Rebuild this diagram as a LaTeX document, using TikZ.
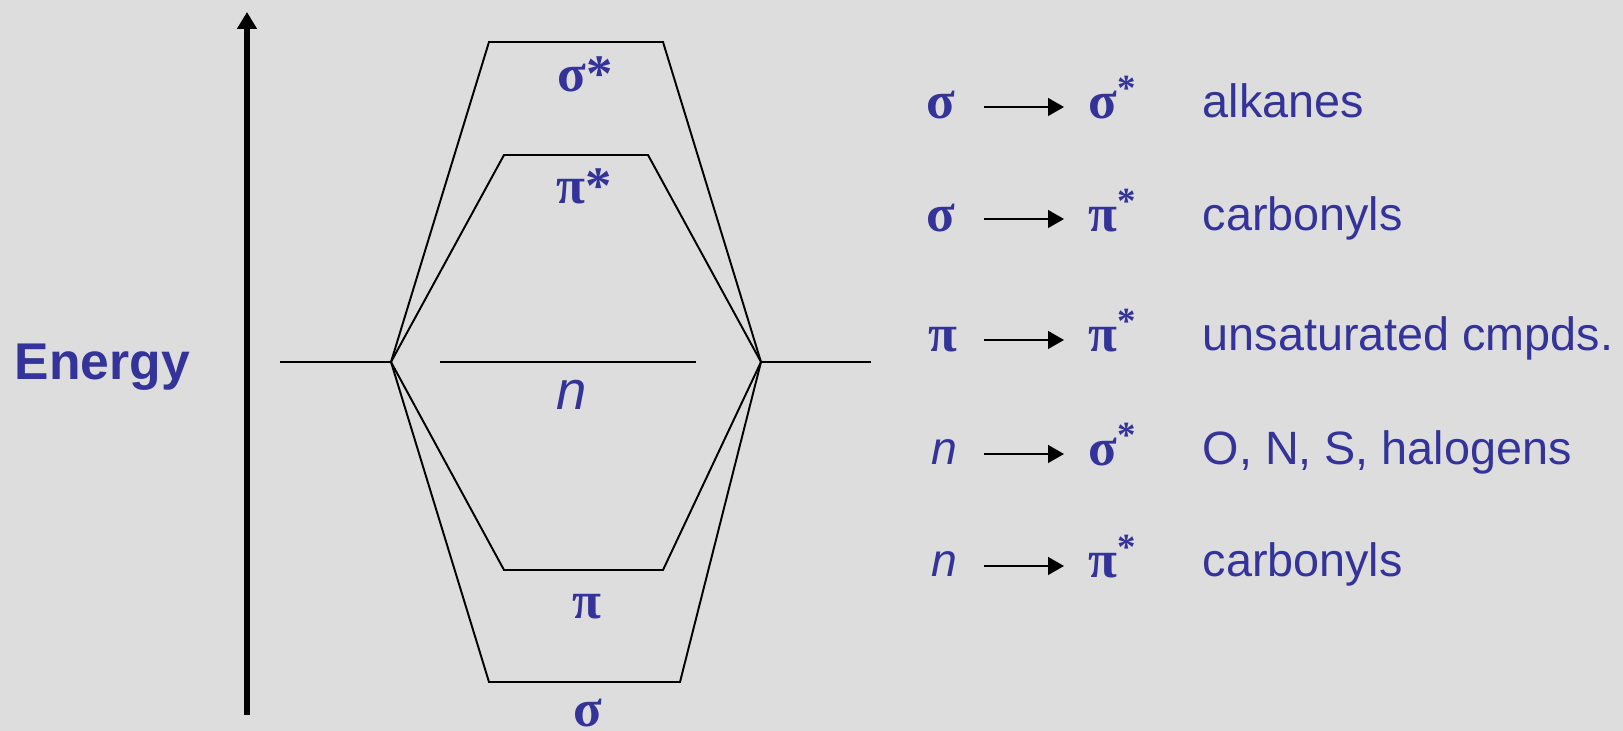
\documentclass[tikz,border=0pt]{standalone}
\usepackage{fontspec}
\setmainfont{Liberation Sans}
\newfontfamily\grk{Liberation Serif}
\usetikzlibrary{arrows.meta}
\definecolor{bg}{RGB}{221,221,221}
\definecolor{ink}{RGB}{51,51,153}
\begin{document}
\begin{tikzpicture}[x=0.1mm,y=-0.1mm,
  level/.style={line width=0.55pt,black},
  energyarrow/.style={line width=1.45pt,black,-{Triangle[length=4.8pt,width=5.4pt]}},
  trarrow/.style={line width=0.6pt,black,-{Triangle[length=4.5pt,width=5pt]}},
  dlbl/.style={text=ink,inner sep=0pt,anchor=base,font=\grk\bfseries\fontsize{15}{15}\selectfont},
  nlbl/.style={text=ink,inner sep=0pt,anchor=base,font=\itshape\fontsize{15.5}{15.5}\selectfont},
  glft/.style={text=ink,inner sep=0pt,anchor=base,font=\grk\bfseries\fontsize{15}{15}\selectfont},
  nlft/.style={text=ink,inner sep=0pt,anchor=base,font=\itshape\fontsize{13.2}{13.2}\selectfont},
  grgt/.style={text=ink,inner sep=0pt,anchor=base west,font=\grk\bfseries\fontsize{15}{15}\selectfont},
  desc/.style={text=ink,inner sep=0pt,anchor=base west,font=\fontsize{13.3}{13.3}\selectfont},
  energy/.style={text=ink,inner sep=0pt,anchor=base,font=\bfseries\fontsize{14.7}{14.7}\selectfont}]
\useasboundingbox (0,0) rectangle (1623,731);
\fill[bg] (0,0) rectangle (1623,731);

% energy axis
\coordinate (eb) at (247,715);
\coordinate (et) at (247,12);
\draw[energyarrow] (eb) -- (et);
\node[energy] (elabel) at (102.5,380) {Energy};

% level diagram coordinates
\coordinate (L0) at (280,362);
\coordinate (L) at (391,362);
\coordinate (R) at (761,362);
\coordinate (R0) at (871,362);
\coordinate (nl) at (440,362);
\coordinate (nr) at (696,362);
\coordinate (ssl) at (489,42);
\coordinate (ssr) at (663,42);
\coordinate (psl) at (504,155);
\coordinate (psr) at (648,155);
\coordinate (pl) at (504,570);
\coordinate (pr) at (663,570);
\coordinate (sl) at (489,682);
\coordinate (sr) at (680,682);

\draw[level] (L0) -- (L);
\draw[level] (R) -- (R0);
\draw[level] (nl) -- (nr);
\draw[level] (L) -- (ssl) -- (ssr) -- (R);
\draw[level] (L) -- (psl) -- (psr) -- (R);
\draw[level] (L) -- (pl) -- (pr) -- (R);
\draw[level] (L) -- (sl) -- (sr) -- (R);

\node[dlbl] (lss) at (585,92) {σ*};
\node[dlbl] (lps) at (584,204) {π*};
\node[nlbl] (ln) at (572,410) {n};
\node[dlbl] (lp) at (587,619) {π};
\node[dlbl] (ls) at (588,727) {σ};

% transitions
\node[glft] (a1) at (941,119) {σ};
\node[grgt] (b1) at (1088,119) {σ\textsuperscript{*}};
\node[desc] (c1) at (1202,118) {alkanes};
\coordinate (s1) at (984,107);
\coordinate (e1) at (1064,107);
\draw[trarrow] (s1) -- (e1);

\node[glft] (a2) at (941,232) {σ};
\node[grgt] (b2) at (1088,232) {π\textsuperscript{*}};
\node[desc] (c2) at (1202,231) {carbonyls};
\coordinate (s2) at (984,219);
\coordinate (e2) at (1064,219);
\draw[trarrow] (s2) -- (e2);

\node[glft] (a3) at (943,352) {π};
\node[grgt] (b3) at (1088,352) {π\textsuperscript{*}};
\node[desc] (c3) at (1202,351) {unsaturated cmpds.};
\coordinate (s3) at (984,340);
\coordinate (e3) at (1064,340);
\draw[trarrow] (s3) -- (e3);

\node[nlft] (a4) at (944,465) {n};
\node[grgt] (b4) at (1088,466) {σ\textsuperscript{*}};
\node[desc] (c4) at (1202,465) {O, N, S, halogens};
\coordinate (s4) at (984,454);
\coordinate (e4) at (1064,454);
\draw[trarrow] (s4) -- (e4);

\node[nlft] (a5) at (944,577) {n};
\node[grgt] (b5) at (1088,578) {π\textsuperscript{*}};
\node[desc] (c5) at (1202,577) {carbonyls};
\coordinate (s5) at (984,566);
\coordinate (e5) at (1064,566);
\draw[trarrow] (s5) -- (e5);
\end{tikzpicture}
\end{document}
